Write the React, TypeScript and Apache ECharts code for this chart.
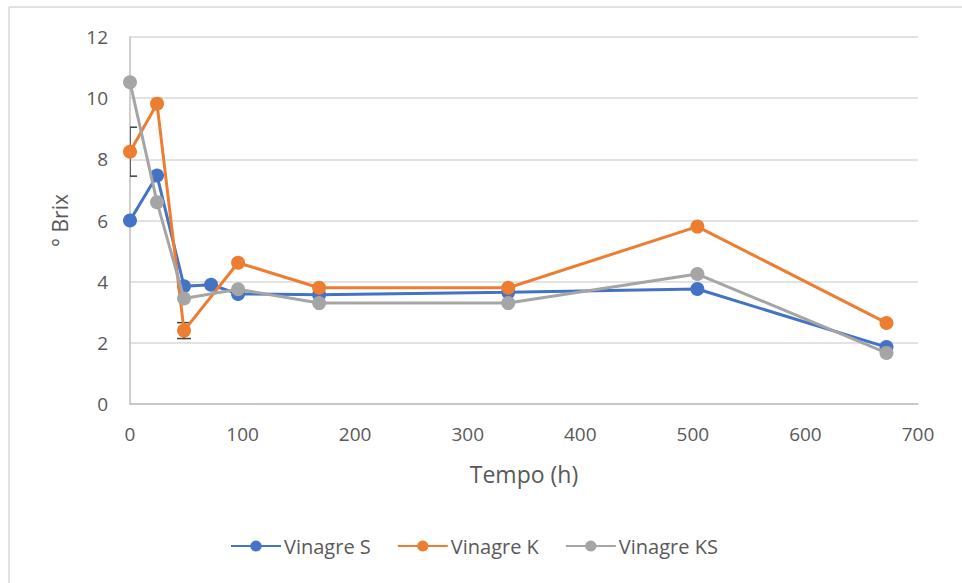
import React, { useEffect, useRef } from "react";
import * as echarts from "echarts";

const hoursS = [0, 24, 48, 72, 96, 168, 336, 504, 672];
const brixS = [6.0, 7.47, 3.85, 3.9, 3.6, 3.57, 3.65, 3.76, 1.86];

const hoursK = [0, 24, 48, 96, 168, 336, 504, 672];
const brixK = [8.25, 9.82, 2.4, 4.62, 3.8, 3.8, 5.8, 2.65];

const hoursKS = [0, 24, 48, 96, 168, 336, 504, 672];
const brixKS = [10.52, 6.6, 3.45, 3.75, 3.3, 3.3, 4.25, 1.67];

// error bars (on Vinagre K): [hour, value, half-width]
const errHours = [0, 48];
const errValues = [8.25, 2.4];
const errHalf = [0.8, 0.26];

const xTicks = { min: 0, max: 700, interval: 100 };
const yTicks = { min: 0, max: 12, interval: 2 };

const seriesNames = ["Vinagre S", "Vinagre K", "Vinagre KS"];
const colors = ["#4472C4", "#ED7D31", "#A5A5A5"];

const FONT = "'Open Sans', 'Noto Sans', sans-serif";

export default function App() {
  const ref = useRef<HTMLDivElement>(null);
  useEffect(() => {
    if (!ref.current) return;
    const chart = echarts.init(ref.current, null, { renderer: "svg" });
    const zip = (xs: number[], ys: number[]) => xs.map((x, i) => [x, ys[i]]);
    const lineSeries = (name: string, data: number[][], color: string, z: number) => ({
      name,
      type: "line",
      data,
      symbol: "circle",
      symbolSize: 14,
      showSymbol: true,
      z,
      lineStyle: { color, width: 3 },
      itemStyle: { color },
      emphasis: { disabled: true },
    });
    const errData = errHours.map((h, i) => [h, errValues[i], errHalf[i]]);
    chart.setOption({
      animation: false,
      textStyle: { fontFamily: FONT },
      grid: { left: 130, right: 44, top: 37, bottom: 179, containLabel: false },
      graphic: [
        { type: "line", shape: { x1: 9, y1: 7, x2: 9, y2: 583 }, style: { stroke: "#d9d9d9", lineWidth: 1.5 } },
        { type: "line", shape: { x1: 9, y1: 7, x2: 962, y2: 7 }, style: { stroke: "#d9d9d9", lineWidth: 1.5 } },
      ],
      legend: {
        data: seriesNames,
        left: 230,
        top: 536,
        padding: 0,
        itemWidth: 50,
        itemHeight: 14,
        itemGap: 26,
        textStyle: { color: "#595959", fontSize: 20, fontFamily: FONT, padding: [0, 0, 0, -2] },
      },
      xAxis: {
        type: "value",
        min: xTicks.min,
        max: xTicks.max,
        interval: xTicks.interval,
        name: "Tempo (h)",
        nameLocation: "middle",
        nameGap: 58,
        nameTextStyle: { color: "#595959", fontSize: 23, fontFamily: FONT },
        axisLine: { show: true, lineStyle: { color: "#bfbfbf", width: 1.5 } },
        axisTick: { show: false },
        splitLine: { show: false },
        axisLabel: { color: "#595959", fontSize: 19, margin: 20, fontFamily: FONT },
      },
      yAxis: {
        type: "value",
        min: yTicks.min,
        max: yTicks.max,
        interval: yTicks.interval,
        name: "° Brix",
        nameLocation: "middle",
        nameGap: 60,
        nameTextStyle: { color: "#595959", fontSize: 21, fontFamily: FONT },
        axisLine: { show: true, lineStyle: { color: "#bfbfbf", width: 1.5 } },
        axisTick: { show: false },
        splitLine: { show: true, lineStyle: { color: "#d9d9d9", width: 1.5 } },
        axisLabel: { color: "#595959", fontSize: 19, margin: 22, fontFamily: FONT },
      },
      series: [
        lineSeries(seriesNames[0], zip(hoursS, brixS), colors[0], 2),
        {
          type: "custom",
          name: "err",
          data: errData,
          z: 3,
          clip: true,
          silent: true,
          encode: { x: 0, y: [1] },
          renderItem: (params: any, api: any) => {
            const x = api.value(0);
            const y = api.value(1);
            const e = api.value(2);
            const top = api.coord([x, y + e]);
            const bot = api.coord([x, y - e]);
            const w = 7;
            const style = { stroke: "#404040", lineWidth: 1.5 };
            return {
              type: "group",
              children: [
                { type: "line", shape: { x1: top[0], y1: top[1], x2: bot[0], y2: bot[1] }, style },
                { type: "line", shape: { x1: top[0] - w, y1: top[1], x2: top[0] + w, y2: top[1] }, style },
                { type: "line", shape: { x1: bot[0] - w, y1: bot[1], x2: bot[0] + w, y2: bot[1] }, style },
              ],
            };
          },
        },
        lineSeries(seriesNames[1], zip(hoursK, brixK), colors[1], 4),
        lineSeries(seriesNames[2], zip(hoursKS, brixKS), colors[2], 5),
      ],
    });
    return () => chart.dispose();
  }, []);
  return (
    <div
      ref={ref}
      style={{ position: "fixed", left: 0, top: 0, width: 962, height: 583, background: "#ffffff" }}
    />
  );
}
